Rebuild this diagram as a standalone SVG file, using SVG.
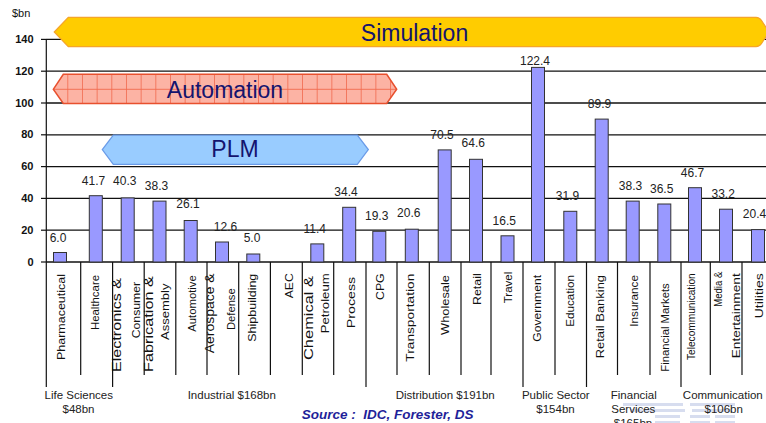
<svg xmlns="http://www.w3.org/2000/svg" width="766" height="423" viewBox="0 0 766 423">
<defs>
<style>
.grid{stroke:#111;stroke-width:1.3}
.tick{stroke:#111;stroke-width:1.2}
.sep{stroke:#111;stroke-width:1.2}
.ax{font-family:"Liberation Sans",Arial,sans-serif;font-size:11px;font-weight:bold;fill:#111;text-anchor:end}
.bar{fill:#9999FF;stroke:#333;stroke-width:1}
.val{font-family:"Liberation Sans",Arial,sans-serif;font-size:12px;fill:#222;text-anchor:middle}
.cat{font-family:"Liberation Sans",Arial,sans-serif;font-size:11.5px;fill:#111}
.grp{font-family:"Liberation Sans",Arial,sans-serif;font-size:11.5px;fill:#222;text-anchor:middle}
.big{font-family:"Liberation Sans",Arial,sans-serif;font-size:23px;fill:#14146E;text-anchor:middle}
.src{font-family:"Liberation Sans",Arial,sans-serif;font-size:13.5px;font-weight:bold;font-style:italic;fill:#1F1F99;white-space:pre}
</style>
<pattern id="auto" patternUnits="userSpaceOnUse" x="67.3" y="0" width="14.67" height="200">
<rect x="0" y="0" width="14.67" height="200" fill="#FCB3A4"/>
<line x1="0.4" y1="0" x2="0.4" y2="200" stroke="#F26A4E" stroke-width="0.9"/>
</pattern>
</defs>
<rect width="766" height="423" fill="#fff"/>

<g id="axes">
<text x="12" y="16.7" font-family="Liberation Sans, Arial, sans-serif" font-size="11" fill="#111">$bn</text>
<g class="grid">
<line x1="46" y1="39.4" x2="766" y2="39.4"/>
<line x1="46" y1="71.2" x2="766" y2="71.2"/>
<line x1="46" y1="103" x2="766" y2="103"/>
<line x1="46" y1="134.8" x2="766" y2="134.8"/>
<line x1="46" y1="166.6" x2="766" y2="166.6"/>
<line x1="46" y1="198.4" x2="766" y2="198.4"/>
<line x1="46" y1="230.2" x2="766" y2="230.2"/>
<line x1="46" y1="262" x2="766" y2="262"/>
</g>
<g class="tick">
<line x1="41" y1="39.4" x2="46" y2="39.4"/>
<line x1="41" y1="71.2" x2="46" y2="71.2"/>
<line x1="41" y1="103" x2="46" y2="103"/>
<line x1="41" y1="134.8" x2="46" y2="134.8"/>
<line x1="41" y1="166.6" x2="46" y2="166.6"/>
<line x1="41" y1="198.4" x2="46" y2="198.4"/>
<line x1="41" y1="230.2" x2="46" y2="230.2"/>
<line x1="41" y1="262" x2="46" y2="262"/>
<line x1="46.3" y1="39.4" x2="46.3" y2="387"/>
</g>
<text class="ax" x="33.5" y="43">140</text>
<text class="ax" x="33.5" y="74.8">120</text>
<text class="ax" x="33.5" y="106.6">100</text>
<text class="ax" x="33.5" y="138.4">80</text>
<text class="ax" x="33.5" y="170.2">60</text>
<text class="ax" x="33.5" y="202">40</text>
<text class="ax" x="33.5" y="233.8">20</text>
<text class="ax" x="33.5" y="265.6">0</text>
</g>

<g id="simulation">
<path d="M54.3,32 L68.3,17.3 L756,17.3 Q759.5,17.3 761.5,20.5 L769,32 L761.5,43.5 Q759.5,46.7 756,46.7 L68.3,46.7 Z" fill="#FFCC00" stroke="#F5A52A" stroke-width="1.3"/>
<text class="big" x="414.5" y="41.3">Simulation</text>
</g>

<g id="automation">
<path d="M53.3,89.3 L63.3,74.3 L386.7,74.3 L396.7,89.3 L386.7,103.5 L63.3,103.5 Z" fill="url(#auto)"/>
<line x1="53.3" y1="89.3" x2="396.7" y2="89.3" stroke="#F26A4E" stroke-width="0.9"/>
<path d="M53.3,89.3 L63.3,74.3 L386.7,74.3 L396.7,89.3 L386.7,103.5 L63.3,103.5 Z" fill="none" stroke="#E8502E" stroke-width="1.5"/>
<text class="big" x="225" y="98.3">Automation</text>
</g>

<g id="plm">
<path d="M102.3,149.6 L113.3,135.2 L357.3,135.2 L368.3,149.6 L357.3,164.3 L113.3,164.3 Z" fill="#99CCFF" stroke="#6A9BE8" stroke-width="1.3"/>
<text class="big" x="235" y="157.3">PLM</text>
</g>

<g id="bars">
<rect class="bar" x="53.5" y="252.5" width="13" height="9.5"/>
<rect class="bar" x="89.3" y="195.7" width="13" height="66.3"/>
<rect class="bar" x="121.2" y="197.9" width="13" height="64.1"/>
<rect class="bar" x="153" y="201.1" width="13" height="60.9"/>
<rect class="bar" x="184.2" y="220.5" width="13" height="41.5"/>
<rect class="bar" x="215.5" y="242" width="13" height="20"/>
<rect class="bar" x="246.8" y="254" width="13" height="8"/>
<rect class="bar" x="310.8" y="243.9" width="13" height="18.1"/>
<rect class="bar" x="342.7" y="207.3" width="13" height="54.7"/>
<rect class="bar" x="372.8" y="231.3" width="13" height="30.7"/>
<rect class="bar" x="405.3" y="229.2" width="13" height="32.8"/>
<rect class="bar" x="438.2" y="149.9" width="13" height="112.1"/>
<rect class="bar" x="469.5" y="159.3" width="13" height="102.7"/>
<rect class="bar" x="501" y="235.8" width="13" height="26.2"/>
<rect class="bar" x="531.5" y="67.4" width="13" height="194.6"/>
<rect class="bar" x="563.8" y="211.3" width="13" height="50.7"/>
<rect class="bar" x="595.2" y="119.1" width="13" height="142.9"/>
<rect class="bar" x="626.2" y="201.1" width="13" height="60.9"/>
<rect class="bar" x="657.8" y="204" width="13" height="58"/>
<rect class="bar" x="688.5" y="187.7" width="13" height="74.3"/>
<rect class="bar" x="719.5" y="209.2" width="13" height="52.8"/>
<rect class="bar" x="751.5" y="229.6" width="13" height="32.4"/>
</g>

<g id="values">
<text class="val" x="58" y="241.7">6.0</text>
<text class="val" x="93.5" y="185">41.7</text>
<text class="val" x="124.8" y="185">40.3</text>
<text class="val" x="156.5" y="190">38.3</text>
<text class="val" x="188" y="208.3">26.1</text>
<text class="val" x="225.5" y="230.5">12.6</text>
<text class="val" x="252" y="241.7">5.0</text>
<text class="val" x="314.7" y="232.7">11.4</text>
<text class="val" x="346" y="195.7">34.4</text>
<text class="val" x="376.7" y="220">19.3</text>
<text class="val" x="408.8" y="217.3">20.6</text>
<text class="val" x="442" y="139.3">70.5</text>
<text class="val" x="473.3" y="147.3">64.6</text>
<text class="val" x="504.3" y="225">16.5</text>
<text class="val" x="535" y="65">122.4</text>
<text class="val" x="567.5" y="200">31.9</text>
<text class="val" x="599.5" y="107.7">89.9</text>
<text class="val" x="630.5" y="190">38.3</text>
<text class="val" x="661.7" y="192.7">36.5</text>
<text class="val" x="692.5" y="176.7">46.7</text>
<text class="val" x="723.2" y="197.7">33.2</text>
<text class="val" x="754.5" y="218.3">20.4</text>
</g>

<g id="separators" class="sep">
<line x1="80.7" y1="262" x2="80.7" y2="375"/>
<line x1="112.6" y1="262" x2="112.6" y2="387"/>
<line x1="144.2" y1="262" x2="144.2" y2="375"/>
<line x1="175.8" y1="262" x2="175.8" y2="375"/>
<line x1="207" y1="262" x2="207" y2="375"/>
<line x1="238.7" y1="262" x2="238.7" y2="375"/>
<line x1="270.4" y1="262" x2="270.4" y2="375"/>
<line x1="302.3" y1="262" x2="302.3" y2="375"/>
<line x1="333.7" y1="262" x2="333.7" y2="375"/>
<line x1="366" y1="262" x2="366" y2="387"/>
<line x1="397" y1="262" x2="397" y2="375"/>
<line x1="429.3" y1="262" x2="429.3" y2="375"/>
<line x1="461" y1="262" x2="461" y2="375"/>
<line x1="491" y1="262" x2="491" y2="375"/>
<line x1="523" y1="262" x2="523" y2="387"/>
<line x1="555" y1="262" x2="555" y2="375"/>
<line x1="586.5" y1="262" x2="586.5" y2="387"/>
<line x1="617.5" y1="262" x2="617.5" y2="375"/>
<line x1="650" y1="262" x2="650" y2="375"/>
<line x1="681" y1="262" x2="681" y2="387"/>
<line x1="710.3" y1="262" x2="710.3" y2="375"/>
<line x1="742" y1="262" x2="742" y2="375"/>
</g>

<g id="categories" class="cat">
<text transform="translate(64.5,360) rotate(-90)" textLength="86" lengthAdjust="spacingAndGlyphs">Pharmaceutical</text>
<text transform="translate(99,330) rotate(-90)" textLength="55" lengthAdjust="spacingAndGlyphs">Healthcare</text>
<text transform="translate(121,372) rotate(-90)" font-size="12.5" textLength="94" lengthAdjust="spacingAndGlyphs">Electronics &amp;</text>
<text transform="translate(139.5,338.3) rotate(-90)" textLength="56.5" lengthAdjust="spacingAndGlyphs">Consumer</text>
<text transform="translate(152.8,372) rotate(-90)" font-size="12.5" textLength="96" lengthAdjust="spacingAndGlyphs">Fabrication &amp;</text>
<text transform="translate(169,340) rotate(-90)" textLength="56.5" lengthAdjust="spacingAndGlyphs">Assembly</text>
<text transform="translate(195.5,331.7) rotate(-90)" textLength="56.5" lengthAdjust="spacingAndGlyphs">Automotive</text>
<text transform="translate(213.7,353.3) rotate(-90)" font-size="12" textLength="80" lengthAdjust="spacingAndGlyphs">Aerospace &amp;</text>
<text transform="translate(234.7,330) rotate(-90)" textLength="41.7" lengthAdjust="spacingAndGlyphs">Defense</text>
<text transform="translate(256,341.7) rotate(-90)" textLength="68" lengthAdjust="spacingAndGlyphs">Shipbuilding</text>
<text transform="translate(292.5,298.3) rotate(-90)" textLength="25" lengthAdjust="spacingAndGlyphs">AEC</text>
<text transform="translate(312.5,360) rotate(-90)" font-size="12.5" textLength="84" lengthAdjust="spacingAndGlyphs">Chemical &amp;</text>
<text transform="translate(329,333.3) rotate(-90)" textLength="60" lengthAdjust="spacingAndGlyphs">Petroleum</text>
<text transform="translate(354.5,328.3) rotate(-90)" textLength="51.5" lengthAdjust="spacingAndGlyphs">Process</text>
<text transform="translate(384,300) rotate(-90)" textLength="26.7" lengthAdjust="spacingAndGlyphs">CPG</text>
<text transform="translate(414.3,361.7) rotate(-90)" textLength="88" lengthAdjust="spacingAndGlyphs">Transportation</text>
<text transform="translate(449,335) rotate(-90)" textLength="60" lengthAdjust="spacingAndGlyphs">Wholesale</text>
<text transform="translate(480.5,305) rotate(-90)" textLength="31.7" lengthAdjust="spacingAndGlyphs">Retail</text>
<text transform="translate(511.5,303.3) rotate(-90)" textLength="31.6" lengthAdjust="spacingAndGlyphs">Travel</text>
<text transform="translate(541,341.7) rotate(-90)" textLength="66.7" lengthAdjust="spacingAndGlyphs">Government</text>
<text transform="translate(574,326.7) rotate(-90)" textLength="51.7" lengthAdjust="spacingAndGlyphs">Education</text>
<text transform="translate(603.7,358.3) rotate(-90)" textLength="83.3" lengthAdjust="spacingAndGlyphs">Retail Banking</text>
<text transform="translate(637.5,326.7) rotate(-90)" textLength="51.7" lengthAdjust="spacingAndGlyphs">Insurance</text>
<text transform="translate(669,371.7) rotate(-90)" textLength="88.4" lengthAdjust="spacingAndGlyphs">Financial Markets</text>
<text transform="translate(694.7,360) rotate(-90)" font-size="10.5" textLength="86.7" lengthAdjust="spacingAndGlyphs">Telecommunication</text>
<text transform="translate(721.5,306.7) rotate(-90)" font-size="10.5" textLength="35" lengthAdjust="spacingAndGlyphs">Media &amp;</text>
<text transform="translate(740,358.3) rotate(-90)" textLength="85" lengthAdjust="spacingAndGlyphs">Entertainment</text>
<text transform="translate(763,318.3) rotate(-90)" textLength="45" lengthAdjust="spacingAndGlyphs">Utilities</text>
</g>

<g id="logo" fill="#A7B6DC" opacity="0.45">
<rect x="623" y="403" width="60" height="3"/>
<rect x="690" y="403" width="45" height="3"/>
<rect x="630" y="409" width="55" height="3"/>
<rect x="692" y="409" width="40" height="3"/>
<rect x="655" y="415" width="25" height="3"/>
<rect x="690" y="415" width="20" height="3"/>
<rect x="715" y="415" width="20" height="3"/>
<rect x="655" y="421" width="25" height="2"/>
<rect x="690" y="421" width="20" height="2"/>
<rect x="715" y="421" width="20" height="2"/>
</g>

<g id="groups" class="grp">
<text x="78.8" y="399">Life Sciences</text>
<text x="78.5" y="413.3">$48bn</text>
<text x="231.8" y="399">Industrial $168bn</text>
<text x="445.2" y="399">Distribution $191bn</text>
<text x="555.8" y="399">Public Sector</text>
<text x="555.5" y="413.3">$154bn</text>
<text x="633.8" y="399">Financial</text>
<text x="633.3" y="413.3">Services</text>
<text x="633" y="427">$165bn</text>
<text x="722.8" y="399">Communication</text>
<text x="723.7" y="413.3">$106bn</text>
</g>

<text class="src" x="301.7" y="419">Source :  IDC, Forester, DS</text>
</svg>
